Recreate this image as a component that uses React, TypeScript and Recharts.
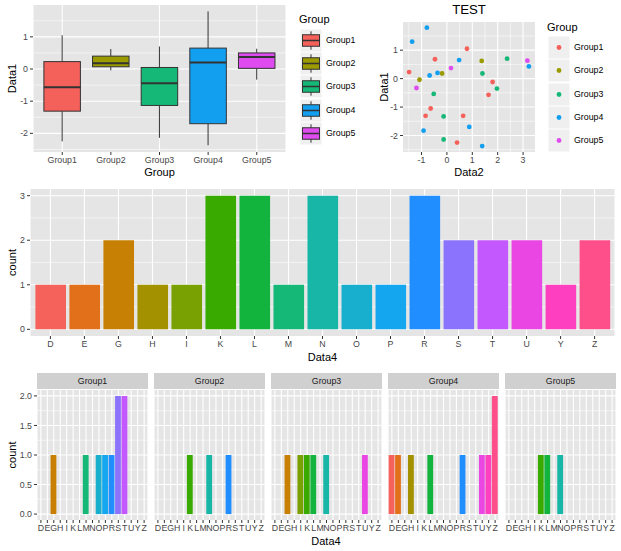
import React from 'react';
import { ComposedChart, BarChart, Bar, ScatterChart, Scatter, XAxis, YAxis, CartesianGrid, Cell, Label } from 'recharts';

// groups and their colours
const groups = ['Group1', 'Group2', 'Group3', 'Group4', 'Group5'];
const groupColors = ['#F4605A', '#9B9A00', '#16B877', '#139FF0', '#DE4BEE'];

// scatter points per group: Data2 (x) and Data1 (y)
const group1Data2 = [-1.49, -0.47, 0.79, -0.64, -0.84, 0.64, 0.4, 1.64, 1.8];
const group1Data1 = [0.23, 0.68, 1.05, -1.05, -1.31, -1.31, -2.25, -0.57, -0.12];
const group2Data2 = [-1.08, -0.19, 1.37];
const group2Data1 = [-0.04, 0.18, 0.62];
const group3Data2 = [-0.52, 1.4, 2.37, 1.97, -0.13, -0.13];
const group3Data1 = [-0.54, 0.18, 0.7, -0.35, -1.33, -2.14];
const group4Data2 = [-0.79, -1.37, 0.48, -0.37, -0.68, 3.23, 0.88, -0.92, 1.39];
const group4Data1 = [1.79, 1.3, 0.65, 0.2, 0.11, 0.43, -1.7, -1.83, -2.37];
const group5Data2 = [-1.2, 0.16, 3.17];
const group5Data1 = [-0.33, 0.37, 0.63];

const data2ByGroup = [group1Data2, group2Data2, group3Data2, group4Data2, group5Data2];
const data1ByGroup = [group1Data1, group2Data1, group3Data1, group4Data1, group5Data1];

// Data4 categories and counts
const letters = ['D', 'E', 'G', 'H', 'I', 'K', 'L', 'M', 'N', 'O', 'P', 'R', 'S', 'T', 'U', 'Y', 'Z'];
const letterColors = [
  '#F5625C', '#E2701A', '#C77F04', '#A39100', '#79A101', '#38AA00', '#12B43E', '#16B877', '#17B6A6',
  '#18AFCF', '#14A6EE', '#208EFE', '#8C73FE', '#C358FE', '#EA46E4', '#FE40C0', '#FE4F8B',
];
const totalCounts = [1, 1, 2, 1, 1, 3, 3, 1, 3, 1, 1, 3, 2, 2, 2, 1, 2];
const group1Counts = [0, 0, 1, 0, 0, 0, 0, 1, 0, 1, 1, 1, 2, 2, 0, 0, 0];
const group2Counts = [0, 0, 0, 0, 0, 1, 0, 0, 1, 0, 0, 1, 0, 0, 0, 0, 0];
const group3Counts = [0, 0, 1, 0, 1, 1, 1, 0, 1, 0, 0, 0, 0, 0, 1, 0, 0];
const group4Counts = [1, 1, 0, 1, 0, 0, 1, 0, 0, 0, 0, 1, 0, 0, 1, 1, 2];
const group5Counts = [0, 0, 0, 0, 0, 1, 1, 0, 1, 0, 0, 0, 0, 0, 0, 0, 0];
const facetCounts = [group1Counts, group2Counts, group3Counts, group4Counts, group5Counts];

// quantile type 7 (R default)
const quantile = (vals: number[], p: number) => {
  const s = [...vals].sort((a, b) => a - b);
  const h = (s.length - 1) * p;
  const lo = Math.floor(h);
  return s[lo] + (h - lo) * ((s[lo + 1] ?? s[lo]) - s[lo]);
};

const boxData = groups.map((g, i) => ({
  group: g,
  color: groupColors[i],
  min: Math.min(...data1ByGroup[i]),
  q1: quantile(data1ByGroup[i], 0.25),
  median: quantile(data1ByGroup[i], 0.5),
  q3: quantile(data1ByGroup[i], 0.75),
  max: Math.max(...data1ByGroup[i]),
}));

const FONT = '"Liberation Sans", Arial, Helvetica, sans-serif';
const PANEL = '#E5E5E5';
const STRIP = '#D0D0D0';
const KEY_BG = '#EFEFEF';
const tickStyle = { fill: '#474747', fontSize: 8.8 };
const tickLine = { stroke: '#333333' };
const titleStyle = { fill: '#000', fontSize: 11, textAnchor: 'middle' as const };

const BoxShape = (props: any) => {
  const { x, y, width, height, payload } = props;
  const top = Math.min(y, y + height);
  const h = Math.abs(height);
  const span = payload.max - payload.min;
  const py = (v: number) => top + ((payload.max - v) / span) * h;
  const cx = x + width / 2;
  return (
    <g>
      <line x1={cx} x2={cx} y1={py(payload.max)} y2={py(payload.q3)} stroke="#333" strokeWidth={1} />
      <line x1={cx} x2={cx} y1={py(payload.q1)} y2={py(payload.min)} stroke="#333" strokeWidth={1} />
      <rect x={x} y={py(payload.q3)} width={width} height={py(payload.q1) - py(payload.q3)} fill={payload.color} stroke="#333" strokeWidth={1} />
      <line x1={x} x2={x + width} y1={py(payload.median)} y2={py(payload.median)} stroke="#333" strokeWidth={2} />
    </g>
  );
};

const BoxPlot = () => (
  <div style={{ position: 'absolute', left: 0, top: 0 }}>
    <ComposedChart width={290} height={180} data={boxData} margin={{ top: 5, right: 4, left: 0, bottom: 0 }}>
      <CartesianGrid fill={PANEL} stroke="#fff" strokeWidth={0.55} vertical={false} horizontalValues={[-2.5, -1.5, -0.5, 0.5, 1.5]} />
      <CartesianGrid stroke="#fff" strokeWidth={1.1} horizontalValues={[-2, -1, 0, 1]} />
      <XAxis dataKey="group" padding={{ left: 4.9, right: 4.9 }} axisLine={false} tickLine={tickLine} tickSize={3} tickMargin={2} tick={tickStyle} height={28}>
        <Label value="Group" position="insideBottom" offset={4} style={titleStyle} />
      </XAxis>
      <YAxis type="number" domain={[-2.58, 1.99]} ticks={[-2, -1, 0, 1]} allowDataOverflow width={33} axisLine={false} tickLine={tickLine} tickSize={3} tickMargin={2} tick={tickStyle}>
        <Label value="Data1" angle={-90} position="insideLeft" offset={12} style={titleStyle} />
      </YAxis>
      <Bar dataKey={(d: any) => [d.min, d.max]} barSize={36.5} shape={(p: any) => <BoxShape {...p} />} isAnimationActive={false} />
    </ComposedChart>
  </div>
);

const ScatterPlot = () => (
  <div style={{ position: 'absolute', left: 360, top: 0 }}>
    <ScatterChart width={180} height={180} margin={{ top: 22, right: 5, left: 0, bottom: 0 }}>
      <CartesianGrid fill={PANEL} stroke="#fff" strokeWidth={0.55} horizontalValues={[-2.5, -1.5, -0.5, 0.5, 1.5]} verticalValues={[-1.5, -0.5, 0.5, 1.5, 2.5]} />
      <CartesianGrid stroke="#fff" strokeWidth={1.1} horizontalValues={[-2, -1, 0, 1]} verticalValues={[-1, 0, 1, 2, 3]} />
      <XAxis type="number" dataKey="x" domain={[-1.73, 3.47]} ticks={[-1, 0, 1, 2, 3]} allowDataOverflow axisLine={false} tickLine={tickLine} tickSize={3} tickMargin={2} tick={tickStyle} height={28}>
        <Label value="Data2" position="insideBottom" offset={4} style={titleStyle} />
      </XAxis>
      <YAxis type="number" dataKey="y" domain={[-2.58, 1.99]} ticks={[-2, -1, 0, 1]} allowDataOverflow width={43} axisLine={false} tickLine={tickLine} tickSize={3} tickMargin={2} tick={tickStyle}>
        <Label value="Data1" angle={-90} position="insideLeft" offset={24} style={titleStyle} />
      </YAxis>
      {groups.map((g, i) => (
        <Scatter
          key={g}
          name={g}
          data={data2ByGroup[i].map((x, j) => ({ x, y: data1ByGroup[i][j] }))}
          fill={groupColors[i]}
          shape={(p: any) => <circle cx={p.cx} cy={p.cy} r={2.4} fill={groupColors[i]} />}
          isAnimationActive={false}
        />
      ))}
    </ScatterChart>
    <div style={{ position: 'absolute', left: 43, top: 2, width: 132, textAlign: 'center', fontSize: 13.2, color: '#000' }}>TEST</div>
  </div>
);

const BoxLegend = () => (
  <div style={{ position: 'absolute', left: 299, top: 12 }}>
    <div style={{ position: 'absolute', left: 0, top: 0, fontSize: 11, lineHeight: '14px', whiteSpace: 'nowrap' }}>Group</div>
    {groups.map((g, i) => (
      <div key={g} style={{ position: 'absolute', left: 1, top: 17 + i * 23.2 }}>
        <svg width={22} height={23} style={{ display: 'block' }}>
          <rect x={0.5} y={0.5} width={21} height={22} fill={KEY_BG} />
          <line x1={11} x2={11} y1={2.3} y2={20.7} stroke="#333" />
          <rect x={2.5} y={5.75} width={17} height={11.5} fill={groupColors[i]} stroke="#333" />
          <line x1={2.5} x2={19.5} y1={11.5} y2={11.5} stroke="#333" strokeWidth={1.5} />
        </svg>
        <span style={{ position: 'absolute', left: 26, top: 5, fontSize: 8.8, lineHeight: '12px', whiteSpace: 'nowrap' }}>{g}</span>
      </div>
    ))}
  </div>
);

const ScatterLegend = () => (
  <div style={{ position: 'absolute', left: 547, top: 20 }}>
    <div style={{ position: 'absolute', left: 0, top: 0, fontSize: 11, lineHeight: '14px', whiteSpace: 'nowrap' }}>Group</div>
    {groups.map((g, i) => (
      <div key={g} style={{ position: 'absolute', left: 1, top: 16 + i * 23.25 }}>
        <svg width={22} height={23} style={{ display: 'block' }}>
          <rect x={0.5} y={0.5} width={21} height={22} fill={KEY_BG} />
          <circle cx={11} cy={11.5} r={2.4} fill={groupColors[i]} />
        </svg>
        <span style={{ position: 'absolute', left: 26, top: 5, fontSize: 8.8, lineHeight: '12px', whiteSpace: 'nowrap' }}>{g}</span>
      </div>
    ))}
  </div>
);

const CountBars = () => {
  const data = letters.map((l, i) => ({ letter: l, count: totalCounts[i] }));
  return (
    <div style={{ position: 'absolute', left: 0, top: 180 }}>
      <BarChart width={621} height={185} data={data} margin={{ top: 9, right: 6, left: 0, bottom: 0 }} barSize={30.6}>
        <CartesianGrid fill={PANEL} stroke="#fff" strokeWidth={0.55} vertical={false} horizontalValues={[0.5, 1.5, 2.5]} />
        <CartesianGrid stroke="#fff" strokeWidth={1.1} horizontalValues={[0, 1, 2, 3]} />
        <XAxis dataKey="letter" interval={0} padding={{ left: 3.4, right: 3.4 }} axisLine={false} tickLine={tickLine} tickSize={3} tickMargin={2} tick={tickStyle} height={29}>
          <Label value="Data4" position="insideBottom" offset={4} style={titleStyle} />
        </XAxis>
        <YAxis type="number" domain={[-0.15, 3.15]} ticks={[0, 1, 2, 3]} allowDataOverflow width={30} axisLine={false} tickLine={tickLine} tickSize={3} tickMargin={2} tick={tickStyle}>
          <Label value="count" angle={-90} position="insideLeft" offset={12} style={titleStyle} />
        </YAxis>
        <Bar dataKey="count" isAnimationActive={false}>
          {data.map((d, i) => (
            <Cell key={d.letter} fill={letterColors[i]} />
          ))}
        </Bar>
      </BarChart>
    </div>
  );
};

const FacetPanel = ({ index }: { index: number }) => {
  const showY = index === 0;
  const yw = showY ? 37 : 0;
  const left = 37 + index * 117;
  const data = letters.map((l, i) => ({ letter: l, count: facetCounts[index][i] }));
  return (
    <div style={{ position: 'absolute', left: left - yw, top: 373 }}>
      <div style={{ position: 'absolute', left: yw, top: 0, width: 111, height: 16, background: STRIP, color: '#1A1A1A', fontSize: 8.8, lineHeight: '16px', textAlign: 'center' }}>
        {groups[index]}
      </div>
      <BarChart width={111 + yw} height={161} data={data} margin={{ top: 17, right: 0, left: 0, bottom: 0 }} barSize={5.8}>
        <CartesianGrid fill={PANEL} stroke="#fff" strokeWidth={0.55} vertical={false} horizontalValues={[0.25, 0.75, 1.25, 1.75]} />
        <CartesianGrid stroke="#fff" strokeWidth={1.1} horizontalValues={[0, 0.5, 1, 1.5, 2]} />
        <XAxis dataKey="letter" interval={0} padding={{ left: 0.65, right: 0.65 }} axisLine={false} tickLine={tickLine} tickSize={3} tickMargin={2} tick={tickStyle} height={14} />
        <YAxis type="number" hide={!showY} domain={[-0.1, 2.1]} ticks={[0, 0.5, 1, 1.5, 2]} tickFormatter={(v: number) => v.toFixed(1)} allowDataOverflow width={yw} axisLine={false} tickLine={tickLine} tickSize={3} tickMargin={2} tick={tickStyle}>
          {showY && <Label value="count" angle={-90} position="insideLeft" offset={12} style={titleStyle} />}
        </YAxis>
        <Bar dataKey="count" isAnimationActive={false}>
          {data.map((d, i) => (
            <Cell key={d.letter} fill={letterColors[i]} />
          ))}
        </Bar>
      </BarChart>
    </div>
  );
};

export default function App() {
  return (
    <div style={{ position: 'absolute', left: 0, top: 0, width: 621, height: 551, background: '#fff', fontFamily: FONT, overflow: 'hidden' }}>
      <BoxPlot />
      <BoxLegend />
      <ScatterPlot />
      <ScatterLegend />
      <CountBars />
      {groups.map((g, i) => (
        <FacetPanel key={g} index={i} />
      ))}
      <div style={{ position: 'absolute', left: 276, top: 534, width: 100, textAlign: 'center', fontSize: 11, lineHeight: '14px' }}>Data4</div>
    </div>
  );
}
